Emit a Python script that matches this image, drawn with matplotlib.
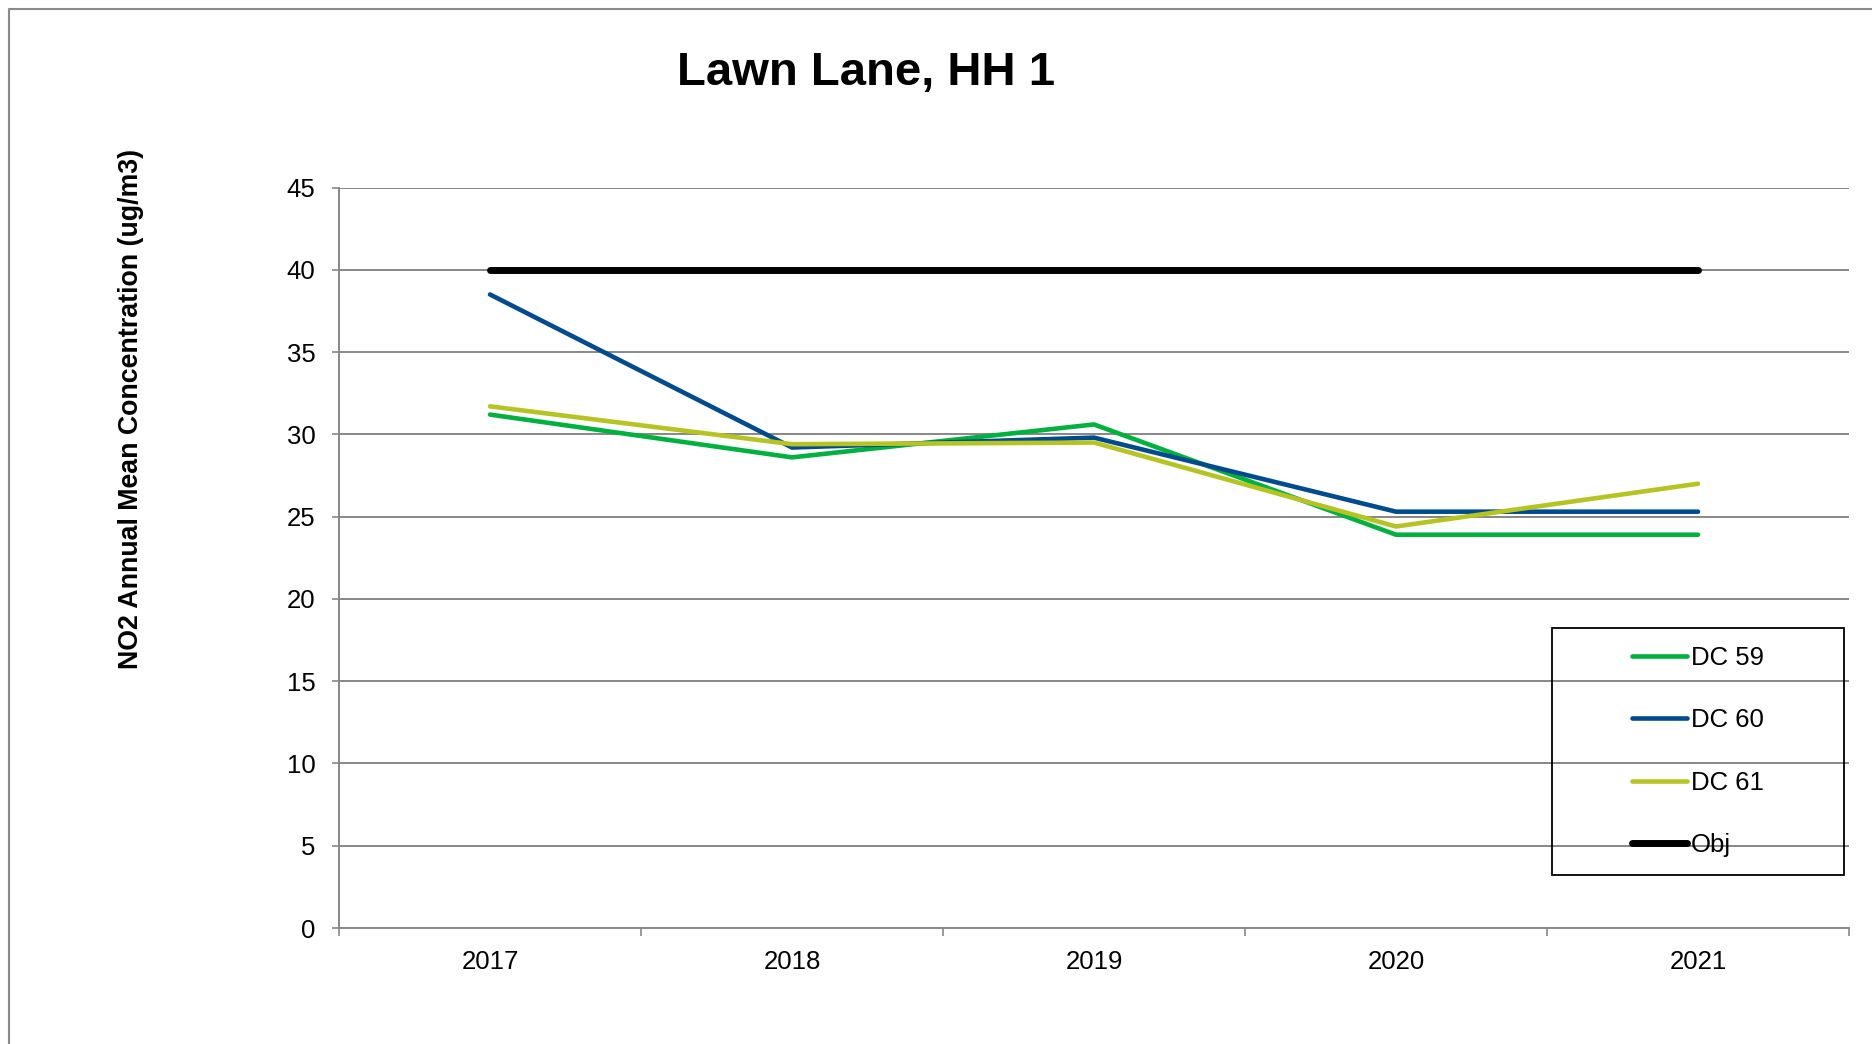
import matplotlib
matplotlib.use("Agg")
import matplotlib.pyplot as plt
from matplotlib.lines import Line2D
from matplotlib.patches import Rectangle

plt.rcParams["font.family"] = ["Liberation Sans", "DejaVu Sans"]

years = ["2017", "2018", "2019", "2020", "2021"]
dc59 = [31.2, 28.6, 30.6, 23.9, 23.9]
dc60 = [38.5, 29.2, 29.8, 25.3, 25.3]
dc61 = [31.7, 29.4, 29.5, 24.4, 27.0]
obj = [40, 40, 40, 40, 40]
series_names = ["DC 59", "DC 60", "DC 61", "Obj"]
y_ticks = [0, 5, 10, 15, 20, 25, 30, 35, 40, 45]

W, H = 1872, 1044
GRID = "#878787"

fig = plt.figure(figsize=(W / 100, H / 100), dpi=100)
ax = fig.add_axes([339 / W, 1 - 928 / H, (1849 - 339) / W, (928 - 187.5) / H])

x = list(range(len(years)))
ax.plot(x, dc59, color="#00B140", lw=3.3, solid_capstyle="round", solid_joinstyle="miter", label=series_names[0])
ax.plot(x, dc60, color="#004B8D", lw=3.3, solid_capstyle="round", solid_joinstyle="miter", label=series_names[1])
ax.plot(x, dc61, color="#B5C422", lw=3.3, solid_capstyle="round", solid_joinstyle="miter", label=series_names[2])
ax.plot(x, obj, color="black", lw=5.0, solid_capstyle="round", label=series_names[3])

ax.set_xlim(-0.5, len(years) - 0.5)
ax.set_ylim(0, 45)
ax.set_yticks(y_ticks)
ax.set_yticklabels([str(v) for v in y_ticks])
ax.set_xticks(x)
ax.set_xticklabels(years)
ax.set_xticks([i - 0.5 for i in range(len(years) + 1)], minor=True)

ax.yaxis.grid(True, color=GRID, lw=1.4)
ax.set_axisbelow(True)
for side in ["top", "right"]:
    ax.spines[side].set_visible(False)
for side in ["left", "bottom"]:
    ax.spines[side].set_color(GRID)
    ax.spines[side].set_linewidth(1.4)

ax.tick_params(axis="y", direction="out", length=5.4, width=1.2, color=GRID,
               pad=11.5, labelsize=18.5, labelcolor="black")
ax.tick_params(axis="x", which="major", length=0, pad=16, labelsize=18.5,
               labelcolor="black")
ax.tick_params(axis="x", which="minor", direction="out", length=6, width=1.2,
               color=GRID)

fig.text(866 / W, 1 - 85 / H, "Lawn Lane, HH 1", ha="center", va="baseline",
         fontsize=34, fontweight="bold")
fig.text(131 / W, 1 - 409 / H, "NO2 Annual Mean Concentration (ug/m3)",
         rotation=90, ha="center", va="center", fontsize=19.3, fontweight="bold")

# legend box drawn by hand so its padding matches
fig.patches.append(Rectangle((1552 / W, 1 - 875 / H), (1844 - 1552) / W, (875 - 628) / H,
                             transform=fig.transFigure, fill=False, ec="black", lw=1.3,
                             zorder=5))
leg = ax.legend(loc="center", bbox_to_anchor=(1698 / W, 1 - 751.5 / H),
                bbox_transform=fig.transFigure, frameon=False, fontsize=18.5,
                handlelength=2.15, handletextpad=0.15, labelspacing=1.5)
for h in leg.get_lines():
    h.set_solid_capstyle("round")

# outer chart frame (top and left edges visible)
fig.add_artist(Line2D([9.2 / W, 9.2 / W, 1.0], [0.0, 1 - 9.2 / H, 1 - 9.2 / H],
                      transform=fig.transFigure, color="#8a8a8a", lw=1.5))

fig.savefig("out.png", dpi=100)
